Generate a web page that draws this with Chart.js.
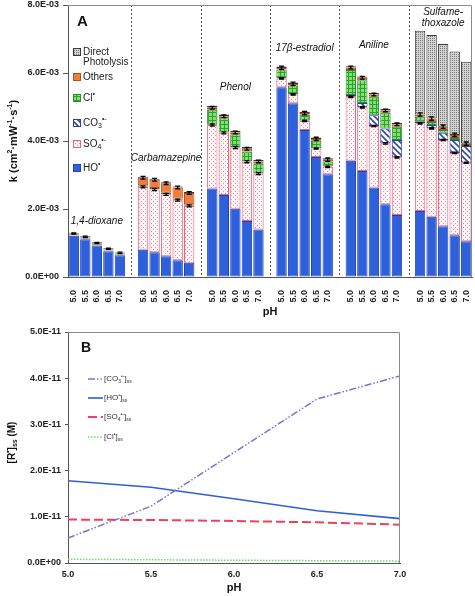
<!DOCTYPE html>
<html>
<head>
<meta charset="utf-8">
<script src="https://cdn.jsdelivr.net/npm/chart.js@4.4.1/dist/chart.umd.min.js"></script>
<style>
  html, body { margin: 0; padding: 0; background: #fff; }
  #wrapA { position: absolute; left: 0; top: 0; width: 475px; height: 325px; }
  #wrapB { position: absolute; left: 0; top: 325px; width: 475px; height: 271px; }
</style>
</head>
<body>
<div id="wrapA"><canvas id="chartA" width="475" height="325"></canvas></div>
<div id="wrapB"><canvas id="chartB" width="475" height="271"></canvas></div>
<script>
const FONT = '"Liberation Sans", Arial, Helvetica, sans-serif';

// Panel A: k values in units of 1E-03 cm2 mW-1 s-1, one row per compound, pH 5.0 .. 7.0
const compounds = ['1,4-dioxane', 'Carbamazepine', 'Phenol', '17β-estradiol', 'Aniline', 'Sulfame-|thoxazole'];
const phTicks = ['5.0', '5.5', '6.0', '6.5', '7.0'];
const kHO = [[1.21, 1.11, 0.93, 0.76, 0.64], [0.80, 0.73, 0.61, 0.49, 0.42], [2.60, 2.41, 2.01, 1.65, 1.40],
             [5.58, 5.11, 4.32, 3.53, 3.02], [3.42, 3.12, 2.63, 2.14, 1.82], [1.94, 1.77, 1.49, 1.23, 1.05]];
const kSO4 = [[0.02, 0.02, 0.02, 0.02, 0.02], [1.85, 1.84, 1.82, 1.77, 1.67], [1.87, 1.83, 1.80, 1.74, 1.64],
              [0.26, 0.26, 0.27, 0.25, 0.22], [1.88, 1.87, 1.81, 1.79, 1.70], [2.58, 2.60, 2.54, 2.42, 2.31]];
const kCO3 = [[0, 0, 0, 0, 0], [0.01, 0.01, 0.01, 0.01, 0.01], [0.01, 0.01, 0.01, 0.01, 0.01],
              [0.01, 0.01, 0.01, 0.01, 0.01], [0.05, 0.13, 0.32, 0.44, 0.51], [0.06, 0.10, 0.21, 0.38, 0.49]];
const kCl = [[0.03, 0.03, 0.03, 0.03, 0.03], [0.04, 0.04, 0.04, 0.04, 0.04], [0.44, 0.42, 0.38, 0.29, 0.28],
             [0.25, 0.25, 0.17, 0.22, 0.15], [0.74, 0.67, 0.54, 0.46, 0.39], [0.13, 0.09, 0.08, 0.06, 0.03]];
const kOthers = [[0.02, 0.02, 0.02, 0.02, 0.02], [0.22, 0.24, 0.28, 0.32, 0.33], [0.06, 0.06, 0.05, 0.08, 0.07],
                 [0.05, 0.05, 0.05, 0.05, 0.05], [0.07, 0.07, 0.07, 0.07, 0.07], [0.07, 0.10, 0.10, 0.09, 0.04]];
const kDirect = [[0.02, 0.02, 0.02, 0.02, 0.02], [0.03, 0.03, 0.03, 0.03, 0.03], [0.05, 0.05, 0.05, 0.05, 0.05],
                 [0.04, 0.04, 0.04, 0.04, 0.04], [0.04, 0.04, 0.04, 0.04, 0.04], [2.46, 2.46, 2.43, 2.45, 2.41]];
const errSO4 = [0.01, 0.03, 0.03, 0.02, 0.02, 0.02];
const errIndirect = [0.02, 0.04, 0.04, 0.05, 0.04, 0.05];
const nameY = [1.64, 3.50, 5.59, 6.73, 6.82, 7.63];   // where the compound names sit (y units)

// Panel B: steady-state radical concentrations, units of 1E-11 M
const phValues = [5.0, 5.5, 6.0, 6.5, 7.0];
const ssCO3 = [0.54, 1.23, 2.39, 3.55, 4.05];
const ssHO = [1.78, 1.64, 1.39, 1.13, 0.96];
const ssSO4 = [0.94, 0.93, 0.91, 0.88, 0.83];
const ssCl = [0.08, 0.07, 0.06, 0.05, 0.04];

// 5 bars per compound, one empty slot between compounds
const labels = [];
compounds.forEach((c, g) => {
  phTicks.forEach(p => labels.push(p));
  if (g < compounds.length - 1) labels.push('');
});
const slot = (g, j) => g * 6 + j;
function spread(rows) {
  const out = [];
  rows.forEach((r, g) => {
    r.forEach(v => out.push(v));
    if (g < rows.length - 1) out.push(null);
  });
  return out;
}

// fill patterns
function tile(w, h, draw) {
  const c = document.createElement('canvas');
  c.width = w; c.height = h;
  draw(c.getContext('2d'));
  return c.getContext('2d').createPattern(c, 'repeat');
}
const patSO4 = tile(4, 4, t => {
  t.fillStyle = '#fff6f7'; t.fillRect(0, 0, 4, 4);
  t.fillStyle = '#f2899a'; t.fillRect(1, 1, 1, 1); t.fillRect(3, 3, 1, 1);
});
const patCl = tile(4, 4, t => {
  t.fillStyle = '#7fe36a'; t.fillRect(0, 0, 4, 4);
  t.fillStyle = '#2f9e36'; t.fillRect(0, 0, 4, 1); t.fillRect(0, 0, 1, 4);
});
const patCO3 = tile(6, 6, t => {
  t.fillStyle = '#fff'; t.fillRect(0, 0, 6, 6);
  t.strokeStyle = '#3446b0'; t.lineWidth = 1.6;
  t.beginPath(); t.moveTo(-1, -1); t.lineTo(7, 7); t.moveTo(-4, 2); t.lineTo(4, 10); t.moveTo(2, -4); t.lineTo(10, 4); t.stroke();
});
const patDirect = tile(2, 2, t => {
  t.fillStyle = '#d2d2d2'; t.fillRect(0, 0, 2, 2);
  t.fillStyle = '#7a7a7a'; t.fillRect(0, 0, 1, 1);
});

const series = [
  { key: 'HO', data: kHO, bg: '#2f60dc', border: '#1d45b8', legend: [['HO', 'n'], ['•', 'sup']] },
  { key: 'SO4', data: kSO4, bg: patSO4, border: '#f2607c', legend: [['SO', 'n'], ['4', 'sub'], ['•-', 'sup']] },
  { key: 'CO3', data: kCO3, bg: patCO3, border: '#2f3f9e', legend: [['CO', 'n'], ['3', 'sub'], ['•-', 'sup']] },
  { key: 'Cl', data: kCl, bg: patCl, border: '#2c8c30', legend: [['Cl', 'n'], ['•', 'sup']] },
  { key: 'Others', data: kOthers, bg: '#f27c3c', border: '#b4501e', legend: [['Others', 'n']] },
  { key: 'Direct', data: kDirect, bg: patDirect, border: '#3a3a3a', legend: [['Direct', 'n']] }
];

// text with super/subscripts
function drawRich(ctx, x, y, segs, size, weight, align) {
  const small = Math.round(size * 0.68);
  let w = 0;
  segs.forEach(([t, m]) => {
    ctx.font = weight + ' ' + (m === 'n' ? size : small) + 'px ' + FONT;
    w += ctx.measureText(t).width;
  });
  let cx = align === 'center' ? x - w / 2 : x;
  ctx.textBaseline = 'middle';
  ctx.textAlign = 'left';
  segs.forEach(([t, m]) => {
    ctx.font = weight + ' ' + (m === 'n' ? size : small) + 'px ' + FONT;
    const dy = m === 'sup' ? -size * 0.35 : m === 'sub' ? size * 0.3 : 0;
    ctx.fillText(t, cx, y + dy);
    cx += ctx.measureText(t).width;
  });
}

const panelA = {
  id: 'panelA',
  beforeDatasetsDraw(chart) {
    const { ctx, chartArea: a, scales: { x } } = chart;
    ctx.save();
    ctx.strokeStyle = '#555';
    ctx.lineWidth = 1;
    ctx.setLineDash([2, 2]);
    labels.forEach((l, i) => {
      if (l !== '') return;
      const px = Math.round(x.getPixelForValue(i)) + 0.5;
      ctx.beginPath(); ctx.moveTo(px, a.top); ctx.lineTo(px, a.bottom); ctx.stroke();
    });
    ctx.restore();
  },
  afterDatasetsDraw(chart) {
    const { ctx, scales: { x, y } } = chart;
    ctx.save();
    ctx.strokeStyle = '#000';
    ctx.lineWidth = 1.3;
    const bar = (px, v, e) => {
      const y1 = y.getPixelForValue(v + e), y2 = y.getPixelForValue(v - e);
      ctx.beginPath();
      ctx.moveTo(px, y1); ctx.lineTo(px, y2);
      ctx.moveTo(px - 2.5, y1); ctx.lineTo(px + 2.5, y1);
      ctx.moveTo(px - 2.5, y2); ctx.lineTo(px + 2.5, y2);
      ctx.stroke();
    };
    compounds.forEach((c, g) => {
      phTicks.forEach((p, j) => {
        const px = x.getPixelForValue(slot(g, j));
        const so4Top = kHO[g][j] + kSO4[g][j];
        const ind = so4Top + kCO3[g][j] + kCl[g][j] + kOthers[g][j];
        if (errSO4[g] > 0.015) bar(px, so4Top, errSO4[g]);
        bar(px, ind, errIndirect[g]);
      });
    });
    ctx.restore();
  },
  afterDraw(chart) {
    const { ctx, chartArea: a, scales: { x, y } } = chart;
    ctx.save();
    // frame
    ctx.strokeStyle = '#8a8a8a';
    ctx.lineWidth = 1;
    ctx.beginPath();
    ctx.moveTo(a.left, a.top + 0.5); ctx.lineTo(a.right - 0.5, a.top + 0.5); ctx.lineTo(a.right - 0.5, a.bottom);
    ctx.stroke();
    ctx.fillStyle = '#111';
    // panel letter
    ctx.font = 'bold 15px ' + FONT;
    ctx.textBaseline = 'middle';
    ctx.fillText('A', 77, 22);
    // compound names
    compounds.forEach((c, g) => {
      const px = x.getPixelForValue(slot(g, 2));
      const py = y.getPixelForValue(nameY[g]);
      ctx.font = 'italic 10px ' + FONT;
      ctx.textAlign = 'center';
      const lines = c.split('|');
      lines.forEach((ln, k) => ctx.fillText(ln, px, py + (k - (lines.length - 1) / 2) * 11.5));
    });
    // legend
    const ly = { Direct: 52, Others: 77, Cl: 98, CO3: 123, SO4: 144, HO: 168 };
    series.forEach(s => {
      const cy = ly[s.key];
      ctx.fillStyle = s.bg;
      ctx.fillRect(73, cy - 4, 8, 8);
      ctx.strokeStyle = s.border;
      ctx.lineWidth = 1;
      ctx.strokeRect(73.5, cy - 3.5, 7, 7);
      ctx.fillStyle = '#222';
      drawRich(ctx, 83, cy, s.legend, 10, 'normal', 'left');
      if (s.key === 'Direct') drawRich(ctx, 83, cy + 10, [['Photolysis', 'n']], 10, 'normal', 'left');
    });
    // axis titles
    ctx.fillStyle = '#111';
    drawRich(ctx, (a.left + a.right) / 2, 312, [['pH', 'n']], 11, 'bold', 'center');
    ctx.translate(14, (a.top + a.bottom) / 2);
    ctx.rotate(-Math.PI / 2);
    drawRich(ctx, 0, 0, [['k (cm', 'n'], ['2', 'sup'], ['·mW', 'n'], ['-1', 'sup'], ['·s', 'n'], ['-1', 'sup'], [')', 'n']], 11, 'bold', 'center');
    ctx.restore();
  }
};

const noPadX = s => { s.paddingLeft = 0; s.paddingRight = 0; };
const noPadY = s => { s.paddingTop = 0; s.paddingBottom = 0; };

new Chart(document.getElementById('chartA'), {
  type: 'bar',
  data: {
    labels: labels,
    datasets: series.map(s => ({
      label: s.key,
      data: spread(s.data),
      backgroundColor: s.bg,
      borderColor: s.border,
      borderWidth: 1,
      borderSkipped: false,
      barPercentage: 0.9,
      categoryPercentage: 1
    }))
  },
  options: {
    responsive: false,
    animation: false,
    layout: { padding: { top: 5, right: 3, left: 0, bottom: 0 } },
    plugins: { legend: { display: false }, tooltip: { enabled: false } },
    scales: {
      x: {
        stacked: true,
        grid: { display: false },
        border: { color: '#555' },
        ticks: { autoSkip: false, maxRotation: 90, minRotation: 90, padding: 5, color: '#222', font: { family: FONT, size: 9, weight: 'bold' } },
        afterFit: s => { s.height = 48; noPadX(s); }
      },
      y: {
        stacked: true,
        min: 0,
        max: 8,
        grid: { drawOnChartArea: false, tickLength: 5, color: '#555' },
        border: { color: '#555' },
        ticks: {
          stepSize: 2,
          padding: 4,
          color: '#222',
          font: { family: FONT, size: 9, weight: 'bold' },
          callback: v => v === 0 ? '0.0E+00' : v.toFixed(1) + 'E-03'
        },
        afterFit: s => { s.width = 68; noPadY(s); }
      }
    }
  },
  plugins: [panelA]
});

// Panel B
const lineSeries = [
  { data: ssCO3, color: '#7a70d2', dash: [7, 2, 1.5, 2, 1.5, 2], width: 1.5, legend: [['[CO', 'n'], ['3', 'sub'], ['•-', 'sup'], [']', 'n'], ['ss', 'sub']], ly: 379 },
  { data: ssHO, color: '#2f5fd8', dash: [], width: 1.6, legend: [['[HO', 'n'], ['•', 'sup'], [']', 'n'], ['ss', 'sub']], ly: 398 },
  { data: ssSO4, color: '#f0405c', dash: [9, 4], width: 2, legend: [['[SO', 'n'], ['4', 'sub'], ['•-', 'sup'], [']', 'n'], ['ss', 'sub']], ly: 417 },
  { data: ssCl, color: '#66dd66', dash: [1.5, 1.5], width: 1.5, legend: [['[Cl', 'n'], ['•', 'sup'], [']', 'n'], ['ss', 'sub']], ly: 437 }
];

const panelB = {
  id: 'panelB',
  afterDraw(chart) {
    const { ctx, chartArea: a } = chart;
    ctx.save();
    ctx.strokeStyle = '#8a8a8a';
    ctx.lineWidth = 1;
    ctx.beginPath();
    ctx.moveTo(a.left, a.top + 0.5); ctx.lineTo(a.right - 0.5, a.top + 0.5); ctx.lineTo(a.right - 0.5, a.bottom);
    ctx.stroke();
    ctx.fillStyle = '#111';
    ctx.font = 'bold 14px ' + FONT;
    ctx.textBaseline = 'middle';
    ctx.fillText('B', 81, 348 - 325);
    lineSeries.forEach(s => {
      const cy = s.ly - 325;
      ctx.strokeStyle = s.color;
      ctx.lineWidth = s.width;
      ctx.setLineDash(s.dash);
      ctx.beginPath(); ctx.moveTo(88, cy); ctx.lineTo(103, cy); ctx.stroke();
      ctx.setLineDash([]);
      ctx.fillStyle = '#333';
      drawRich(ctx, 104, cy, s.legend, 8, 'normal', 'left');
    });
    ctx.fillStyle = '#111';
    drawRich(ctx, (a.left + a.right) / 2, 588 - 325, [['pH', 'n']], 11, 'bold', 'center');
    ctx.translate(12, (a.top + a.bottom) / 2 - 5);
    ctx.rotate(-Math.PI / 2);
    drawRich(ctx, 0, 0, [['[R', 'n'], ['•', 'sup'], [']', 'n'], ['ss', 'sub'], [' (M)', 'n']], 10, 'bold', 'center');
    ctx.restore();
  }
};

new Chart(document.getElementById('chartB'), {
  type: 'line',
  data: {
    datasets: lineSeries.map(s => ({
      data: phValues.map((p, i) => ({ x: p, y: s.data[i] })),
      borderColor: s.color,
      borderDash: s.dash,
      borderWidth: s.width,
      pointRadius: 0,
      tension: 0,
      fill: false
    }))
  },
  options: {
    responsive: false,
    animation: false,
    layout: { padding: { top: 7, right: 75, left: 0, bottom: 0 } },
    plugins: { legend: { display: false }, tooltip: { enabled: false } },
    scales: {
      x: {
        type: 'linear',
        min: 5,
        max: 7,
        grid: { drawOnChartArea: false, drawTicks: false },
        border: { color: '#555' },
        ticks: { stepSize: 0.5, padding: 6, color: '#222', font: { family: FONT, size: 9, weight: 'bold' }, callback: v => v.toFixed(1) },
        afterFit: s => { s.height = 33; noPadX(s); }
      },
      y: {
        min: 0,
        max: 5,
        grid: { drawOnChartArea: false, tickLength: 3, color: '#555' },
        border: { color: '#555' },
        ticks: {
          stepSize: 1,
          padding: 4,
          color: '#222',
          font: { family: FONT, size: 9, weight: 'bold' },
          callback: v => v === 0 ? '0.0E+00' : v.toFixed(1) + 'E-11'
        },
        afterFit: s => { s.width = 68; noPadY(s); }
      }
    }
  },
  plugins: [panelB]
});
</script>
</body>
</html>
